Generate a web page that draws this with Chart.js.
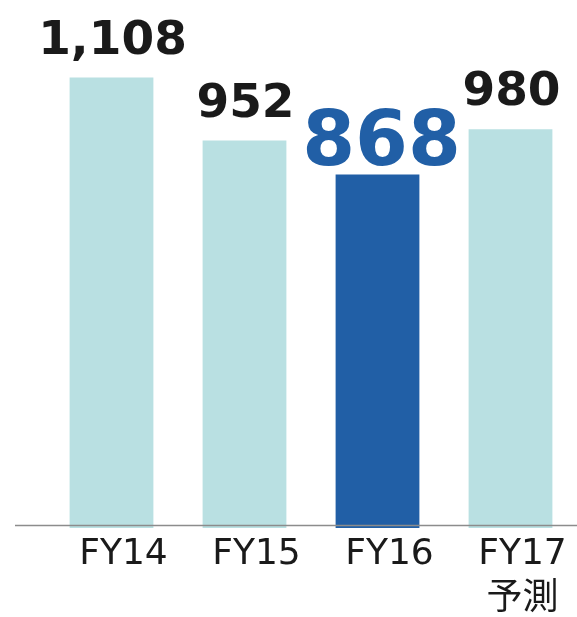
<!DOCTYPE html>
<html>
<head>
<meta charset="utf-8">
<script src="https://cdn.jsdelivr.net/npm/chart.js@4/dist/chart.umd.min.js"></script>
<style>
  body { margin: 0; background: #fff; }
  canvas { display: block; }
</style>
</head>
<body>
<canvas id="myChart" width="577" height="617"></canvas>
<script>
// data
const labels = ['FY14', 'FY15', 'FY16', ['FY17', '予測']];
const values = [1108, 952, 868, 980];
const valueTexts = ['1,108', '952', '868', '980'];
const highlight = 2; // FY16 is the current year

const lightColor = '#b9e0e2';
const darkColor = '#215fa6';
const fontFamily = '"DejaVu Sans", Verdana, "Noto Sans CJK JP", sans-serif';

// value labels above the bars
const valueLabels = {
    id: 'valueLabels',
    afterDatasetsDraw(chart) {
        const ctx = chart.ctx;
        const bars = chart.getDatasetMeta(0).data;
        ctx.save();
        ctx.textAlign = 'center';
        ctx.textBaseline = 'alphabetic';
        bars.forEach(function (bar, i) {
            if (i === highlight) {
                ctx.font = 'bold 76px ' + fontFamily;
                ctx.fillStyle = darkColor;
                ctx.fillText(valueTexts[i], bar.x + 4, bar.y - 10);
            } else {
                ctx.font = 'bold 47px ' + fontFamily;
                ctx.fillStyle = '#1a1a1a';
                ctx.fillText(valueTexts[i], bar.x + 1, bar.y - 24);
            }
        });
        ctx.restore();
    }
};

// base line, a bit wider than the bars area
const baseLine = {
    id: 'baseLine',
    afterDatasetsDraw(chart) {
        const ctx = chart.ctx;
        const y = Math.round(chart.scales.y.getPixelForValue(0)) + 0.5;
        ctx.save();
        ctx.strokeStyle = '#8c8c8c';
        ctx.lineWidth = 1.5;
        ctx.beginPath();
        ctx.moveTo(15, y);
        ctx.lineTo(chart.chartArea.right, y);
        ctx.stroke();
        ctx.restore();
    }
};

const data = {
    labels: labels,
    datasets: [{
        data: values,
        base: -7,
        backgroundColor: values.map((v, i) => i === highlight ? darkColor : lightColor),
        borderWidth: 0,
        barPercentage: 0.63,
        categoryPercentage: 1.0
    }]
};

const config = {
    type: 'bar',
    data,
    options: {
        responsive: false,
        animation: false,
        devicePixelRatio: 1,
        layout: { padding: { left: 45, right: 0, top: 0, bottom: 0 } },
        plugins: {
            legend: { display: false },
            tooltip: { enabled: false }
        },
        scales: {
            x: {
                grid: { display: false, drawTicks: false },
                border: { display: false },
                ticks: {
                    color: '#1a1a1a',
                    padding: 4,
                    labelOffset: 12,
                    font: { family: fontFamily, size: 36, lineHeight: 1.25 }
                },
                afterFit(scale) { scale.height = 89; }
            },
            y: {
                display: false,
                min: -7,
                max: 1300
            }
        }
    },
    plugins: [valueLabels, baseLine]
};

var myChart = new Chart(
    document.getElementById('myChart'),
    config
);
</script>
</body>
</html>
